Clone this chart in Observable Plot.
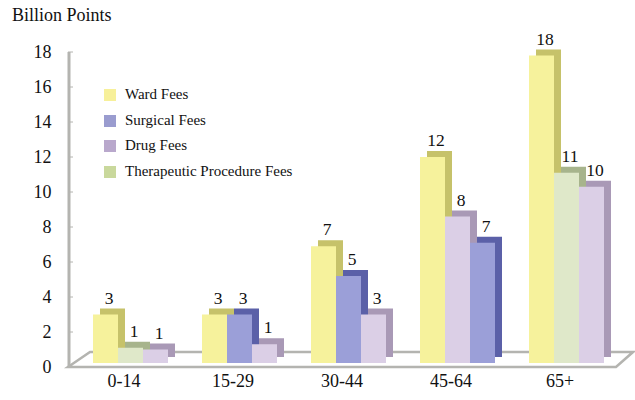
<!DOCTYPE html>
<html>
<head>
<meta charset="utf-8">
<script src="https://cdn.jsdelivr.net/npm/d3@7"></script>
<script src="https://cdn.jsdelivr.net/npm/@observablehq/plot@0.6"></script>
<style>
  body { margin: 0; background: #fff; }
  #wrap { position: relative; width: 635px; height: 400px; font-family: "Liberation Serif", "Times New Roman", "DejaVu Serif", serif; color: #111; }
  #title { position: absolute; left: 12px; top: 5px; font-size: 18px; }
  #legend { position: absolute; left: 104px; top: 86px; font-size: 15px; }
  .item { position: absolute; left: 0; white-space: nowrap; display: flex; align-items: center; }
  .sw { width: 12px; height: 12px; margin-right: 9px; }
  #chart { position: absolute; left: 0; top: 0; }
  #chart svg text { font-family: "Liberation Serif", "Times New Roman", "DejaVu Serif", serif; }
</style>
</head>
<body>
<div id="wrap">
  <div id="chart"></div>
  <div id="title">Billion Points</div>
  <div id="legend"></div>
</div>
<script>
// ---- data ----
const groups = ["0-14", "15-29", "30-44", "45-64", "65+"];
const seriesNames = ["Ward Fees", "Surgical Fees", "Drug Fees", "Therapeutic Procedure Fees"];
// series shown in each group, left to right
const groupSeries = [
  ["Ward Fees", "Therapeutic Procedure Fees", "Drug Fees"],
  ["Ward Fees", "Surgical Fees", "Drug Fees"],
  ["Ward Fees", "Surgical Fees", "Drug Fees"],
  ["Ward Fees", "Drug Fees", "Surgical Fees"],
  ["Ward Fees", "Therapeutic Procedure Fees", "Drug Fees"]
];
const groupValues = [
  [3.0, 1.1, 1.0],
  [3.0, 3.0, 1.3],
  [6.9, 5.2, 3.0],
  [12.0, 8.6, 7.1],
  [17.8, 11.1, 10.3]
];
const groupLabels = [
  ["3", "1", "1"],
  ["3", "3", "1"],
  ["7", "5", "3"],
  ["12", "8", "7"],
  ["18", "11", "10"]
];
const yTicks = [0, 2, 4, 6, 8, 10, 12, 14, 16, 18];

// ---- styles ----
const serif = "Liberation Serif, Times New Roman, DejaVu Serif, serif";
const frontColor = {"Ward Fees": "#f6f29c", "Surgical Fees": "#9b9fd8", "Drug Fees": "#dbcfe6", "Therapeutic Procedure Fees": "#dfe8c9"};
const sideColor  = {"Ward Fees": "#c6c26a", "Surgical Fees": "#5b60a8", "Drug Fees": "#a999b6", "Therapeutic Procedure Fees": "#a7b48c"};
const swatchColor = {"Ward Fees": "#f7f09a", "Surgical Fees": "#9a9ccf", "Drug Fees": "#b9a8cc", "Therapeutic Procedure Fees": "#c9d89c"};

const rows = [];
groups.forEach((g, gi) => groupSeries[gi].forEach((s, si) => {
  rows.push({group: g, slot: si, series: s, value: groupValues[gi][si], label: groupLabels[gi][si]});
}));

const slotW = 25, depthX = 7, depthY = -6, lift = 4;
const marks = [];

// floor, y axis line and small ticks, drawn from the plot's own scales
marks.push((index, scales, values, dim) => {
  const g = d3.create("svg:g");
  const y0 = scales.y(0);
  const xl = dim.marginLeft - 2, xr = dim.width - dim.marginRight - 11;
  g.append("path")
    .attr("d", `M${xl},${y0}L${xr},${y0}L${xr + 17},${y0 - 15}L${xl + 22},${y0 - 15}Z`)
    .attr("fill", "none").attr("stroke", "#b4b4b0").attr("stroke-width", 2.5);
  g.append("line")
    .attr("x1", dim.marginLeft - 1).attr("x2", dim.marginLeft - 1)
    .attr("y1", scales.y(18)).attr("y2", y0)
    .attr("stroke", "#b4b4b0").attr("stroke-width", 3);
  for (const t of yTicks) {
    g.append("line")
      .attr("x1", dim.marginLeft - 2).attr("x2", dim.marginLeft + 3)
      .attr("y1", scales.y(t)).attr("y2", scales.y(t))
      .attr("stroke", "#b4b4b0").attr("stroke-width", 1);
  }
  return g.node();
});

for (let si = 0; si < 3; si++) {
  const data = rows.filter(d => d.slot === si);
  const inset = {insetLeft: si * slotW, insetRight: (2 - si) * slotW};
  marks.push(Plot.barY(data, {x: "group", y: "value", fill: d => sideColor[d.series], ...inset, insetBottom: lift, dx: depthX, dy: depthY}));
  marks.push(Plot.barY(data, {x: "group", y: "value", fill: d => frontColor[d.series], ...inset, insetBottom: lift}));
  marks.push(Plot.text(data, {x: "group", y: "value", text: "label", dx: (si - 1) * slotW + 3, dy: -17,
    fontSize: 17.5, fill: "#111", fontFamily: serif}));
}

// axis tick labels
marks.push(Plot.text(groups, {x: d => d, frameAnchor: "bottom", dy: 19, dx: -7, fontSize: 18,
  fill: "#111", fontFamily: serif, ariaLabel: "x-labels"}));
marks.push(Plot.text(yTicks, {y: d => d, frameAnchor: "left", dx: -19, textAnchor: "end", fontSize: 18,
  fill: "#111", fontFamily: serif}));

const chart = Plot.plot({
  width: 635,
  height: 400,
  marginLeft: 70,
  marginRight: 8,
  marginTop: 52,
  marginBottom: 33,
  style: {fontFamily: serif, background: "transparent", color: "#111"},
  x: {domain: groups, paddingInner: 0.315, paddingOuter: 0.2, axis: null},
  y: {domain: [0, 18], axis: null},
  color: {type: "identity"},
  marks
});
document.getElementById("chart").appendChild(chart);
d3.select(chart).selectAll('g[aria-label="x-labels"] text').style("letter-spacing", "2px");

// legend
const legend = document.getElementById("legend");
const legendTops = [0, 26, 51, 77];
seriesNames.forEach((s, i) => {
  const it = document.createElement("div");
  it.className = "item";
  it.style.top = legendTops[i] + "px";
  it.innerHTML = `<span class="sw" style="background:${swatchColor[s]}"></span><span>${s}</span>`;
  legend.appendChild(it);
});
</script>
</body>
</html>
